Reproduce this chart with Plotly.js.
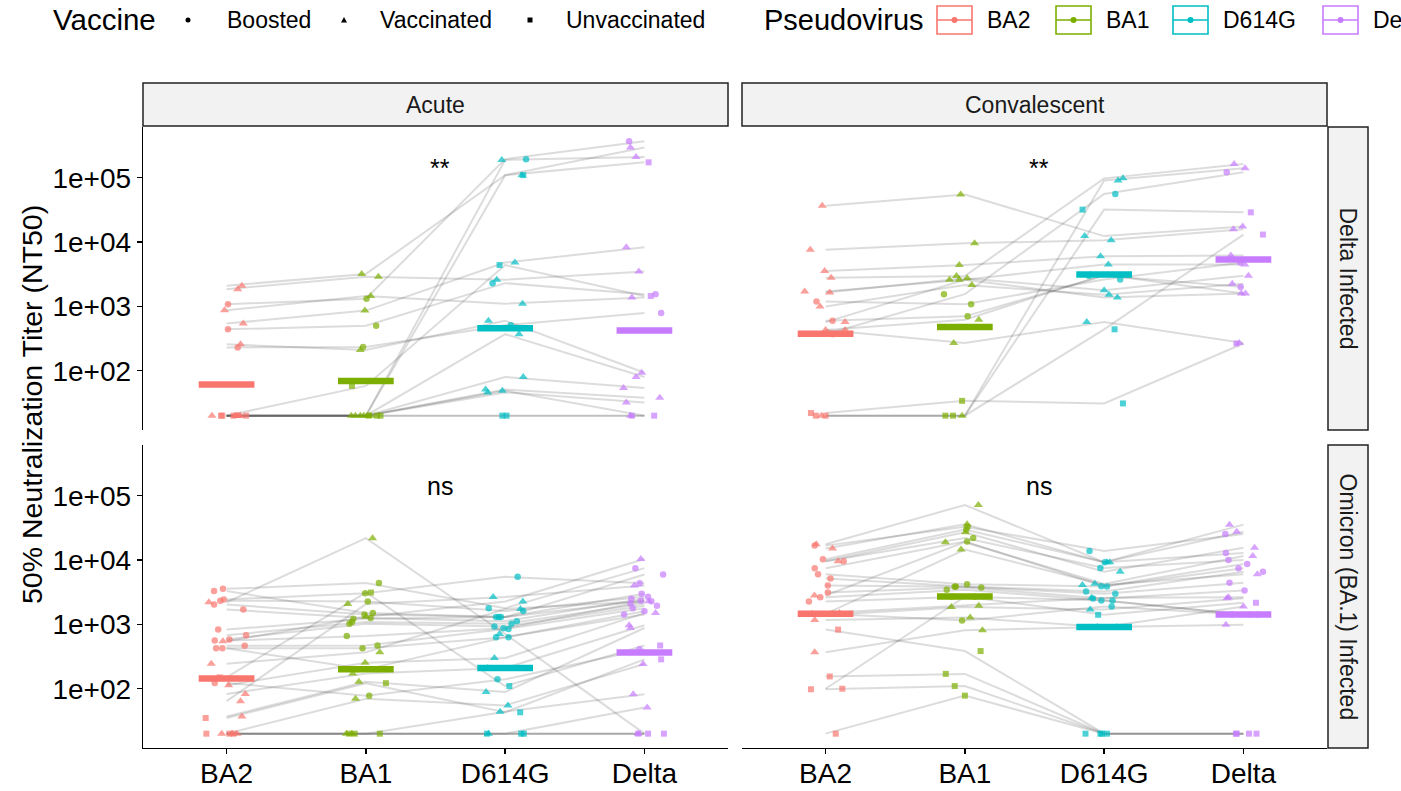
<!DOCTYPE html>
<html><head><meta charset="utf-8">
<script src="https://cdn.plot.ly/plotly-3.0.1.min.js"></script>
<style>html,body{margin:0;padding:0;background:#fff}#chart{width:1401px;height:791px}</style>
</head><body><div id="chart"></div>
<script>
// ---------- categories / labels ----------
const viruses = ['BA2', 'BA1', 'D614G', 'Delta'];
const virusColors = ['#F8766D', '#7CAE00', '#00BFC4', '#C77CFF'];
const vaccineCodes = ['B', 'V', 'U'];
const vaccineLabels = ['Boosted', 'Vaccinated', 'Unvaccinated'];
const tickVals = [100, 1000, 10000, 100000];
const tickText = ['1e+02', '1e+03', '1e+04', '1e+05'];
const timepoints = ['Acute', 'Convalescent'];
const infections = ['Delta Infected', 'Omicron (BA.1) Infected'];
const testLabels = ['**', '**', 'ns', 'ns'];

// ---------- Delta infected, Acute (one entry per subject) ----------
const dAcuteVax = ['V','V','V','V','V','V','V','V','V','V','V','U','U','U','U','B','B','B'];
const dAcuteBA2 = [2100,1850,870,540,257,20,20,20,20,20,20,20,20,20,20,1080,440,230];
const dAcuteBA1 = [3200,2900,1450,860,210,20,20,20,20,20,20,20,58,20,20,1320,500,234];
const dAcuteD614G = [110000,2600,1100,4800,600,190000,370,80,51,46,49,110000,4400,20,20,195000,2300,510];
const dAcuteDelta = [295000,3500,1380,8300,93,210000,80,54,38,32,20,174000,1450,20,20,370000,1550,790];
const dAcuteJitBA2 = [0.11,0.08,-0.015,0.12,0.10,-0.105,0.06,0.08,0.09,0.07,0.10,-0.04,0.05,-0.03,0.14,0.01,0.01,0.08];
const dAcuteJitBA1 = [-0.03,0.09,0.035,-0.007,-0.04,-0.105,-0.075,-0.04,-0.015,0.015,0.035,0.02,-0.10,0.08,0.105,0.005,0.074,-0.02];
const dAcuteJitD614G = [0.12,-0.06,0.125,0.07,-0.12,-0.024,0.10,0.13,-0.14,-0.125,-0.02,0.13,-0.04,-0.02,0.01,0.15,-0.09,0.04];
const dAcuteJitDelta = [-0.10,-0.04,-0.09,-0.13,-0.02,-0.06,-0.06,-0.15,0.11,-0.13,-0.10,0.03,0.045,-0.09,0.07,-0.11,0.08,0.12];
const dAcuteMedian = [61, 69, 457, 421];

// ---------- Delta infected, Convalescent ----------
const dConvVax = ['V','V','V','V','V','V','V','V','V','V','V','U','U','U','B','B','B'];
const dConvBA2 = [36900,7600,3550,2800,20,1700,1640,1000,570,430,430,20,20,22,370,1190,600];
const dConvBA1 = [55000,9600,4400,2970,20,2600,2750,2150,2600,620,270,20,20,34,1550,1080,700];
const dConvD614G = [12400,10700,6000,98000,91000,4500,1780,1520,1380,3100,570,32000,440,31,56000,2630,3000];
const dConvDelta = [17500,15800,6200,164000,141000,4500,3000,2250,1590,1590,270,29000,13100,265,122000,4800,2000];
const dConvJitBA2 = [-0.024,-0.11,-0.007,0.04,-0.03,-0.15,0.03,-0.04,0.14,0.0,0.14,-0.07,0.0,-0.105,0.05,-0.065,0.05];
const dConvJitBA1 = [-0.03,0.07,-0.04,-0.06,-0.02,-0.11,0.017,0.05,-0.04,0.10,-0.08,-0.14,-0.085,-0.02,-0.15,0.045,0.02];
const dConvJitD614G = [-0.14,0.05,-0.026,0.135,0.10,0.03,0.0,0.035,0.095,-0.10,-0.125,-0.155,0.075,0.135,0.08,0.115,-0.11];
const dConvJitDelta = [-0.005,-0.072,-0.09,-0.067,0.012,0.01,0.036,-0.08,-0.015,0.015,-0.03,0.053,0.14,-0.05,-0.12,-0.024,-0.02];
const dConvMedian = [374, 479, 3126, 5350];

// ---------- Omicron (BA.1) infected, Acute ----------
const oAcuteVax = ['B','B','B','B','B','B','B','B','B','B','B','B','B','B','V','V','V','V','V','V','V','V','V','V','U','U','U','U','U'];
const oAcuteBA2 = [3570,3300,2450,2340,2040,1700,830,680,585,560,465,425,425,123,2210,64,545,245,113,83,37,20,20,20,150,35,20,20,20];
const oAcuteBA1 = [4400,1500,3050,2270,1430,1260,1230,1090,1020,660,470,425,200,78,21900,2070,1320,370,254,172,128,70,20,20,3130,122,20,20,20];
const oAcuteD614G = [1790,1300,5500,1620,1300,1120,1300,1020,930,870,850,630,630,140,710,2680,2270,1740,300,210,89,55,44,20,110,43,20,20,20];
const oAcuteDelta = [7500,5960,4360,2700,3000,2500,2340,2110,1950,2300,1780,1600,1430,410,20,4030,10400,2300,1500,970,880,243,82,51,470,286,20,20,20];
const oAcuteJitBA2 = [-0.026,-0.09,-0.02,-0.045,-0.09,0.12,-0.06,0.14,0.02,-0.085,0.13,-0.075,-0.03,-0.085,-0.127,0.10,-0.026,-0.11,0.015,0.135,0.11,-0.035,0.075,0.04,-0.05,-0.15,-0.145,0.02,0.05];
const oAcuteJitBA1 = [0.094,0.05,-0.005,0.014,-0.01,0.034,-0.09,-0.1,-0.118,-0.137,0.084,-0.024,-0.06,0.024,0.048,-0.13,0.0,0.10,-0.005,-0.094,-0.05,-0.074,-0.14,-0.1,0.036,0.144,-0.12,-0.08,0.1];
const oAcuteJitD614G = [-0.118,-0.065,0.09,0.13,-0.046,0.084,-0.03,0.046,-0.077,-0.012,0.024,-0.065,0.024,-0.055,-0.04,-0.086,0.127,0.11,-0.077,-0.125,-0.137,0.02,-0.036,-0.12,0.03,0.108,-0.13,0.134,0.115];
const oAcuteJitDelta = [-0.065,0.134,-0.034,0.026,-0.02,-0.094,-0.026,-0.1,0.09,0.05,-0.084,0.0,-0.146,-0.036,-0.045,-0.072,-0.026,0.03,0.08,-0.11,-0.1,-0.01,-0.08,0.02,0.113,0.12,-0.045,0.026,0.14];
const oAcuteMedian = [144, 200, 210, 365];

// ---------- Omicron (BA.1) infected, Convalescent ----------
const oConvVax = ['V','V','V','V','V','V','V','V','V','B','B','B','B','B','B','B','B','B','B','B','U','U','U','U','U'];
const oConvBA2 = [17600,15200,9600,2820,1460,1500,1400,1170,370,16800,10300,9600,7470,6030,5160,4030,3130,2650,2270,1460,830,155,98,20,100];
const oConvBA1 = [72000,36000,27000,19000,14600,1950,1860,1280,810,33000,30000,22000,19500,4220,3890,3840,3740,3450,2700,1150,385,170,110,78,2700];
const oConvD614G = [9250,9250,6600,4270,4100,2600,1710,910,910,13900,9250,7550,3930,3880,3240,2990,2520,2350,2350,1900,20,20,20,20,1410];
const oConvDelta = [35600,27500,15500,11600,6030,2650,2560,1900,990,25400,12900,10000,8700,7470,6600,4430,3370,1430,1430,1430,20,20,20,20,2170];
const oConvJitBA2 = [-0.067,0.05,0.09,-0.08,-0.1,0.1,-0.03,-0.078,-0.078,-0.078,-0.019,0.13,-0.078,-0.054,0.035,0.016,0.016,-0.038,-0.12,0.05,0.09,0.03,-0.105,0.073,0.12];
const oConvJitBA1 = [0.097,0.016,0.005,-0.14,-0.027,0.1,-0.097,0.038,0.126,0.02,0.01,0.06,0.016,0.016,-0.065,-0.073,0.118,-0.13,0.07,-0.02,0.113,-0.137,-0.073,0.0,-0.09];
const oConvJitD614G = [0.02,0.04,0.115,-0.067,-0.156,-0.09,-0.1,-0.05,0.09,-0.105,0.005,-0.027,-0.02,0.02,-0.13,0.08,-0.08,-0.02,0.06,0.054,-0.134,-0.027,0.02,-0.016,-0.043];
const oConvJitDelta = [-0.1,-0.048,0.08,0.067,0.1,-0.107,-0.118,0.0,-0.126,-0.13,-0.126,-0.107,0.027,-0.035,0.14,-0.1,0.008,-0.08,0.05,0.1,-0.054,0.04,0.094,-0.048,0.09];
const oConvMedian = [1460, 2720, 910, 1430];

// ---------- build ----------
const W = 1401, H = 791;
const px = v => v / W;
const py = v => 1 - v / H;
const symbolOf = {B: 'circle', V: 'triangle-up', U: 'square'};
const sizeOf = {B: 6.5, V: 8, U: 6};
const FONT = 'Liberation Sans, Arial, sans-serif';

const panels = [
  {vax: dAcuteVax, vals: [dAcuteBA2, dAcuteBA1, dAcuteD614G, dAcuteDelta], jit: [dAcuteJitBA2, dAcuteJitBA1, dAcuteJitD614G, dAcuteJitDelta], med: dAcuteMedian, xa: 'x', ya: 'y'},
  {vax: dConvVax, vals: [dConvBA2, dConvBA1, dConvD614G, dConvDelta], jit: [dConvJitBA2, dConvJitBA1, dConvJitD614G, dConvJitDelta], med: dConvMedian, xa: 'x2', ya: 'y2'},
  {vax: oAcuteVax, vals: [oAcuteBA2, oAcuteBA1, oAcuteD614G, oAcuteDelta], jit: [oAcuteJitBA2, oAcuteJitBA1, oAcuteJitD614G, oAcuteJitDelta], med: oAcuteMedian, xa: 'x3', ya: 'y3'},
  {vax: oConvVax, vals: [oConvBA2, oConvBA1, oConvD614G, oConvDelta], jit: [oConvJitBA2, oConvJitBA1, oConvJitD614G, oConvJitDelta], med: oConvMedian, xa: 'x4', ya: 'y4'}
];

const traces = [];
const catPos = viruses.map((v, i) => i + 1);
panels.forEach(p => {
  const n = p.vax.length;
  for (let i = 0; i < n; i++) {
    traces.push({type: 'scatter', mode: 'lines', xaxis: p.xa, yaxis: p.ya,
      x: catPos, y: p.vals.map(arr => arr[i]),
      line: {color: 'rgba(80,80,80,0.2)', width: 2}, hoverinfo: 'skip', showlegend: false});
  }
  p.vals.forEach((arr, v) => {
    traces.push({type: 'scatter', mode: 'markers', xaxis: p.xa, yaxis: p.ya,
      x: arr.map((val, i) => catPos[v] + p.jit[v][i]), y: arr,
      marker: {color: virusColors[v], symbol: p.vax.map(c => symbolOf[c]), size: p.vax.map(c => sizeOf[c]), line: {width: 0}},
      showlegend: false, name: viruses[v]});
  });
  p.med.forEach((m, v) => {
    traces.push({type: 'scatter', mode: 'lines', xaxis: p.xa, yaxis: p.ya,
      x: [catPos[v] - 0.2, catPos[v] + 0.2], y: [m, m],
      line: {color: virusColors[v], width: 6.5}, hoverinfo: 'skip', showlegend: false});
  });
});

const xL = [px(143), px(728)], xR = [px(742), px(1327)];
const yT = [py(430), py(127)], yB = [py(748), py(445)];
const yRange = [1.078, 5.79];
const tickFont = {family: FONT, size: 28, color: '#000'};

function xAxis(dom, anchor, bottom) {
  return {domain: dom, anchor: anchor, range: [0.4, 4.6], tickvals: catPos, ticktext: viruses,
    showticklabels: bottom, ticks: bottom ? 'outside' : '', ticklen: 5, tickwidth: 1.3, tickcolor: '#000',
    ticklabelstandoff: -5,
    showline: bottom, linecolor: '#000', linewidth: 1.3, showgrid: false, zeroline: false,
    tickfont: tickFont, automargin: false, fixedrange: true};
}
function yAxis(dom, anchor, left) {
  return {domain: dom, anchor: anchor, type: 'log', range: yRange, tickvals: tickVals, ticktext: tickText,
    showticklabels: left, ticks: left ? 'outside' : '', ticklen: 5, tickwidth: 1.3, tickcolor: '#000',
    showline: left, linecolor: '#000', linewidth: 1.3, showgrid: false, zeroline: false,
    tickfont: tickFont, automargin: false, fixedrange: true};
}

const shapes = [];
const annotations = [];
const stripFill = '#F2F2F2';
[[143, 728], [742, 1327]].forEach((r, k) => {
  shapes.push({type: 'rect', xref: 'paper', yref: 'paper', x0: px(r[0]), x1: px(r[1]), y0: py(126), y1: py(83),
    fillcolor: stripFill, line: {color: '#222', width: 1.5}, layer: 'below'});
  annotations.push({xref: 'paper', yref: 'paper', x: px((r[0] + r[1]) / 2), y: py(104.5), text: timepoints[k],
    showarrow: false, xanchor: 'center', yanchor: 'middle', font: {family: FONT, size: 23, color: '#1A1A1A'}});
});
[[127, 430], [445, 748]].forEach((r, k) => {
  shapes.push({type: 'rect', xref: 'paper', yref: 'paper', x0: px(1328), x1: px(1368), y0: py(r[1]), y1: py(r[0]),
    fillcolor: stripFill, line: {color: '#222', width: 1.5}, layer: 'below'});
  annotations.push({xref: 'paper', yref: 'paper', x: px(1348), y: py((r[0] + r[1]) / 2), text: infections[k],
    showarrow: false, textangle: 90, xanchor: 'center', yanchor: 'middle', font: {family: FONT, size: 23, color: '#1A1A1A'}});
});
annotations.push({xref: 'paper', yref: 'paper', x: px(32), y: py(405), text: '50% Neutralization Titer (NT50)',
  showarrow: false, textangle: -90, xanchor: 'center', yanchor: 'middle', font: {family: FONT, size: 28.5, color: '#000'}});
panels.forEach((p, k) => {
  annotations.push({xref: p.xa, yref: p.ya, x: 2.53, y: 5.15, text: testLabels[k], showarrow: false,
    xanchor: 'center', yanchor: 'middle', font: {family: FONT, size: 25, color: '#000'}});
});

// ---------- legends (top margin) ----------
const legY = 20;
annotations.push({xref: 'paper', yref: 'paper', x: px(51), y: py(legY), text: 'Vaccine', showarrow: false,
  xanchor: 'left', yanchor: 'middle', font: {family: FONT, size: 29.5, color: '#000'}});
const vaxSymX = [188, 344, 530];
const vaxTextX = [225, 378, 564];
vaccineLabels.forEach((lab, k) => {
  const cx = vaxSymX[k];
  if (k === 0) {
    shapes.push({type: 'circle', xref: 'paper', yref: 'paper', x0: px(cx - 2.5), x1: px(cx + 2.5), y0: py(legY + 2.5), y1: py(legY - 2.5), fillcolor: '#000', line: {width: 0}});
  } else if (k === 1) {
    shapes.push({type: 'path', xref: 'paper', yref: 'paper',
      path: `M ${px(cx - 3)} ${py(legY + 2.5)} L ${px(cx + 3)} ${py(legY + 2.5)} L ${px(cx)} ${py(legY - 3)} Z`, fillcolor: '#000', line: {width: 0}});
  } else {
    shapes.push({type: 'rect', xref: 'paper', yref: 'paper', x0: px(cx - 2.5), x1: px(cx + 2.5), y0: py(legY + 2.5), y1: py(legY - 2.5), fillcolor: '#000', line: {width: 0}});
  }
  annotations.push({xref: 'paper', yref: 'paper', x: px(vaxTextX[k]), y: py(legY), text: lab, showarrow: false,
    xanchor: 'left', yanchor: 'middle', font: {family: FONT, size: 23, color: '#000'}});
});
annotations.push({xref: 'paper', yref: 'paper', x: px(762), y: py(legY), text: 'Pseudovirus', showarrow: false,
  xanchor: 'left', yanchor: 'middle', font: {family: FONT, size: 29, color: '#000'}});
const keyX = [937, 1056, 1173, 1323];
const keyTextX = [985, 1104, 1221, 1371];
viruses.forEach((v, k) => {
  const x0 = keyX[k], x1 = keyX[k] + 35;
  shapes.push({type: 'rect', xref: 'paper', yref: 'paper', x0: px(x0), x1: px(x1), y0: py(34), y1: py(6),
    fillcolor: '#fff', line: {color: virusColors[k], width: 1.6}});
  shapes.push({type: 'line', xref: 'paper', yref: 'paper', x0: px(x0), x1: px(x1), y0: py(legY), y1: py(legY),
    line: {color: virusColors[k], width: 1.6}});
  const cx = (x0 + x1) / 2;
  shapes.push({type: 'circle', xref: 'paper', yref: 'paper', x0: px(cx - 3), x1: px(cx + 3), y0: py(legY + 3), y1: py(legY - 3),
    fillcolor: virusColors[k], line: {width: 0}});
  annotations.push({xref: 'paper', yref: 'paper', x: px(keyTextX[k]), y: py(legY), text: v, showarrow: false,
    xanchor: 'left', yanchor: 'middle', font: {family: FONT, size: 23, color: '#000'}});
});

const layout = {
  width: W, height: H, margin: {l: 0, r: 0, t: 0, b: 0},
  paper_bgcolor: '#fff', plot_bgcolor: '#fff', showlegend: false,
  font: {family: FONT, color: '#000'},
  xaxis: xAxis(xL, 'y', false), yaxis: yAxis(yT, 'x', true),
  xaxis2: xAxis(xR, 'y2', false), yaxis2: yAxis(yT, 'x2', false),
  xaxis3: xAxis(xL, 'y3', true), yaxis3: yAxis(yB, 'x3', true),
  xaxis4: xAxis(xR, 'y4', true), yaxis4: yAxis(yB, 'x4', false),
  shapes: shapes, annotations: annotations
};
Plotly.newPlot('chart', traces, layout, {displayModeBar: false, staticPlot: true});
</script>
</body></html>
